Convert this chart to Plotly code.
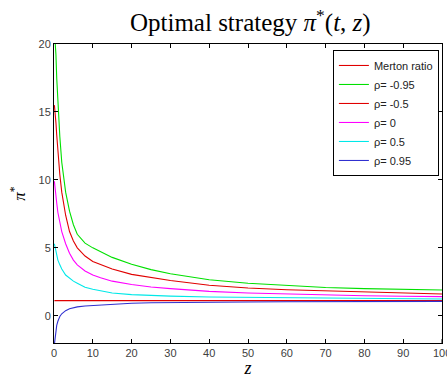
import plotly.graph_objects as go

z = [0.1, 0.3, 0.5, 0.7, 1, 1.5, 2, 3, 4, 5, 6, 8, 10, 12, 15, 20, 25, 30, 40, 50, 60, 70, 80, 90, 100]

merton_ratio = 1.12
rho_m095 = [21.0, 20.2, 19.2, 17.5, 15.5, 13.2, 11.3, 9.1, 7.7, 6.7, 6.0, 5.35, 5.0, 4.7, 4.3, 3.8, 3.4, 3.1, 2.65, 2.4, 2.22, 2.08, 2.0, 1.95, 1.9]
rho_m05 = [15.5, 15.0, 14.2, 13.3, 11.9, 10.4, 9.1, 7.4, 6.2, 5.5, 5.0, 4.4, 4.0, 3.8, 3.45, 3.05, 2.8, 2.6, 2.25, 2.05, 1.92, 1.83, 1.74, 1.67, 1.61]
rho_0 = [9.9, 9.5, 8.9, 8.3, 7.6, 6.8, 6.2, 5.3, 4.6, 4.1, 3.75, 3.3, 3.0, 2.8, 2.55, 2.3, 2.12, 2.0, 1.8, 1.68, 1.6, 1.53, 1.48, 1.44, 1.41]
rho_05 = [5.3, 5.0, 4.7, 4.4, 4.1, 3.75, 3.45, 3.0, 2.75, 2.55, 2.4, 2.1, 1.95, 1.82, 1.68, 1.56, 1.5, 1.45, 1.39, 1.36, 1.33, 1.3, 1.28, 1.26, 1.24]
rho_095 = [-2.1, -1.5, -1.0, -0.7, -0.4, -0.05, 0.15, 0.38, 0.52, 0.6, 0.66, 0.72, 0.76, 0.8, 0.86, 0.92, 0.96, 0.98, 1.0, 1.02, 1.03, 1.04, 1.05, 1.05, 1.06]

x_ticks = [0, 10, 20, 30, 40, 50, 60, 70, 80, 90, 100]
y_ticks = [0, 5, 10, 15, 20]

series = [
    ("Merton ratio", [merton_ratio] * len(z), "#e00000"),
    ("ρ= -0.95", rho_m095, "#00e000"),
    ("ρ= -0.5", rho_m05, "#e00000"),
    ("ρ= 0", rho_0, "#ff00ff"),
    ("ρ= 0.5", rho_05, "#00e8e8"),
    ("ρ= 0.95", rho_095, "#3030d0"),
]

fig = go.Figure()
for name, vals, col in series:
    fig.add_trace(go.Scatter(x=z, y=vals, mode="lines", name=name,
                             line=dict(color=col, width=1.1)))

tick_font = dict(family="Liberation Sans, Arial", size=11, color="#404040")
axis_common = dict(showline=True, linecolor="black", linewidth=1, mirror="ticks",
                   ticks="inside", ticklen=4, tickcolor="black", showgrid=False,
                   zeroline=False, tickfont=tick_font)

fig.update_layout(
    width=447, height=378,
    margin=dict(l=54, r=4, t=44, b=32),
    paper_bgcolor="white", plot_bgcolor="white",
    title=dict(text="Optimal strategy <i>π</i><sup>*</sup>(<i>t</i>, <i>z</i>)",
               x=0.56, xanchor="center", y=0.94, yanchor="middle",
               font=dict(family="Liberation Serif, Times New Roman", size=25, color="black")),
    xaxis=dict(range=[0, 100], tickvals=x_ticks[:-1],
               title=dict(text="<i>z</i>", standoff=2,
                          font=dict(family="Liberation Serif", size=18, color="black")),
               **axis_common),
    yaxis=dict(range=[-2, 20], tickvals=y_ticks,
               title=dict(text="<i>π</i><sup>*</sup>", standoff=8,
                          font=dict(family="Liberation Serif", size=17, color="black")),
               **axis_common),
    legend=dict(x=0.992, y=0.98, xanchor="right", yanchor="top",
                bgcolor="white", bordercolor="black", borderwidth=1,
                font=dict(family="Liberation Sans, Arial", size=11, color="#222"),
                tracegroupgap=0, itemwidth=30),
    showlegend=True,
)

# last x tick (100), partially cut by the right edge as in the reference
fig.add_annotation(x=x_ticks[-1], xref="x", y=0, yref="paper", yanchor="top",
                   yshift=-2, text=str(x_ticks[-1]), showarrow=False,
                   font=tick_font, xanchor="center")
fig.add_shape(type="line", xref="x", yref="paper", x0=x_ticks[-1], x1=x_ticks[-1],
              y0=0, y1=0.013, line=dict(color="black", width=1))

fig.write_html("out.html")
